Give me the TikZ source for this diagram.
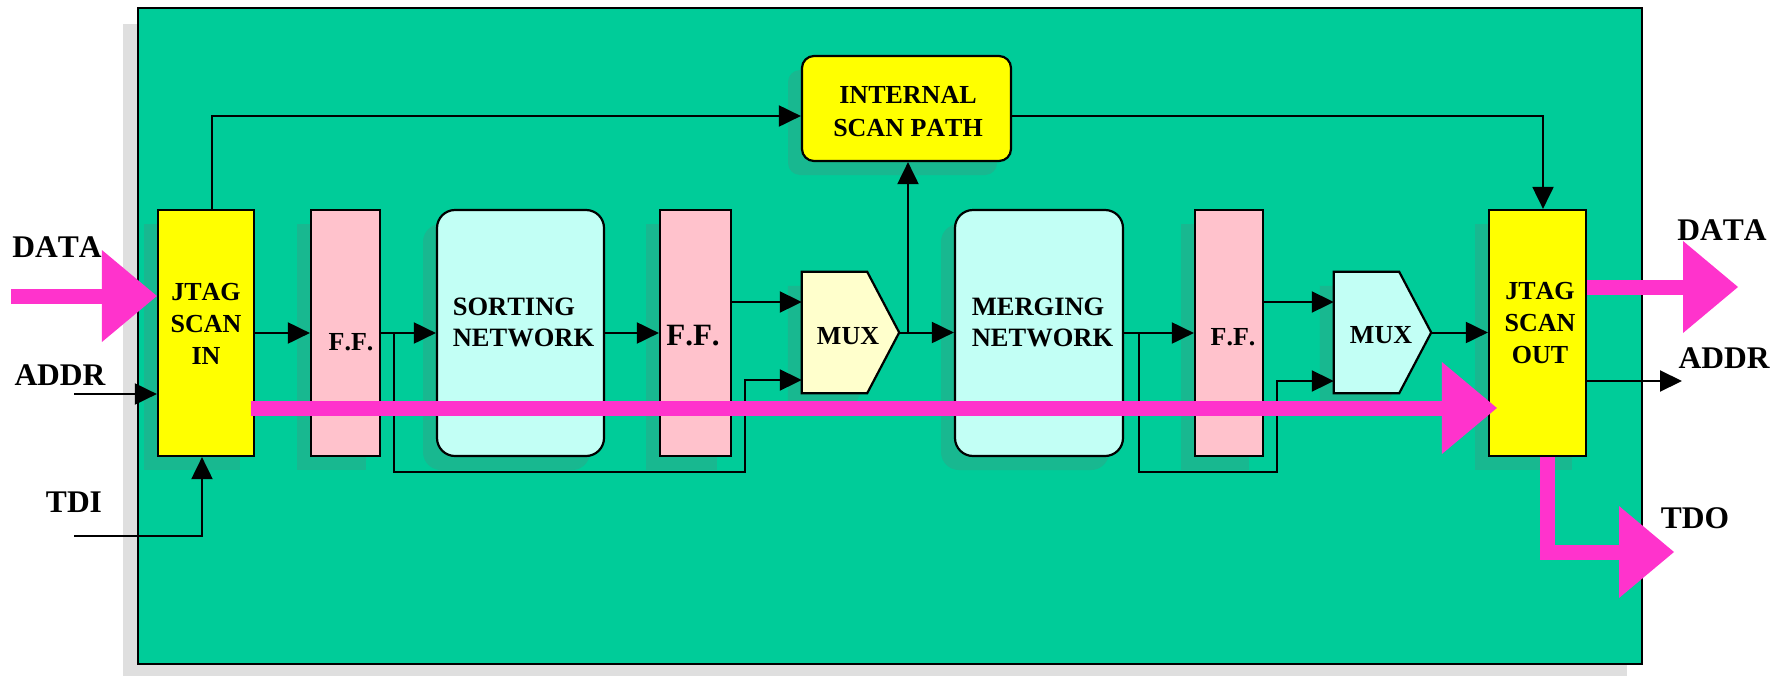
\documentclass[tikz,border=0pt]{standalone}
\usepackage{fontspec}
\setmainfont{Liberation Serif}[Kerning=Off]
\usetikzlibrary{arrows.meta,shadows,calc}
\definecolor{chipgreen}{HTML}{00CC99}
\definecolor{shadowgreen}{RGB}{24,184,144}
\definecolor{jyellow}{HTML}{FFFF00}
\definecolor{ffpink}{HTML}{FFC2CC}
\definecolor{netcyan}{HTML}{C2FFF5}
\definecolor{muxyellow}{HTML}{FFFFCC}
\definecolor{magline}{HTML}{FF33CC}
\begin{document}
\begin{tikzpicture}[x=1pt,y=-1pt,
  blockshadow/.style={drop shadow={shadow xshift=-14pt,shadow yshift=-14pt,fill=shadowgreen,opacity=1}},
  chipshadow/.style={drop shadow={shadow xshift=-15pt,shadow yshift=-16pt,fill=gray!25,opacity=1}},
  blk/.style={draw=black,line width=2.2pt,inner sep=0pt,minimum height=246pt,blockshadow},
  lbl/.style={font=\bfseries\fontsize{26}{32}\selectfont,align=center,inner sep=0pt},
  netlbl/.style={font=\bfseries\fontsize{26.5}{31}\selectfont,align=left,inner sep=0pt},
  ffsmall/.style={font=\bfseries\fontsize{26}{30}\selectfont,inner sep=0pt},
  fflarge/.style={font=\bfseries\fontsize{31}{36}\selectfont,inner sep=0pt},
  outl/.style={font=\bfseries\fontsize{31.5}{36}\selectfont,inner sep=0pt},
  arr/.style={line width=2pt,-{Triangle[length=22pt,width=21pt]}},
  mag/.style={draw=magline,line width=15pt,line join=miter,-{Triangle[length=55pt,width=92pt,line width=0pt]}},
  muxbox/.style={inner sep=0pt,minimum height=121pt,minimum width=97pt}
]
\useasboundingbox (0,0) rectangle (1788,675);

% chip body
\node[draw=black,line width=2pt,fill=chipgreen,chipshadow,inner sep=0pt,
      minimum width=1504pt,minimum height=656pt] (chip) at (890,336) {};

% blocks
\node[blk,fill=jyellow,minimum width=96pt] (jin) at (206,333) {};
\node[lbl] (jinT) at (206,324) {JTAG\\SCAN\\IN};

\node[blk,fill=ffpink,minimum width=69pt] (ff1) at (345.5,333) {};
\node[ffsmall] (ff1T) at (351,342) {F.F.};

\node[blk,fill=netcyan,rounded corners=18pt,minimum width=167pt] (sort) at (520.5,333) {};
\node[netlbl] (sortT) at (523.5,322.5) {SORTING\\NETWORK};

\node[blk,fill=ffpink,minimum width=71pt] (ff2) at (695.5,333) {};
\node[fflarge] (ff2T) at (693,336) {F.F.};

\node[muxbox] (mux1) at (850.5,332.5) {};
\filldraw[draw=black,line width=2.2pt,fill=muxyellow,blockshadow]
  (mux1.north west) -- ([xshift=-32pt]mux1.north east) -- (mux1.east)
  -- ([xshift=-32pt]mux1.south east) -- (mux1.south west) -- cycle;
\node[lbl] (mux1T) at (848,336) {MUX};

\node[blk,fill=netcyan,rounded corners=18pt,minimum width=168pt] (merge) at (1039,333) {};
\node[netlbl] (mergeT) at (1042.5,322.5) {MERGING\\NETWORK};

\node[blk,fill=ffpink,minimum width=68pt] (ff3) at (1229,333) {};
\node[ffsmall] (ff3T) at (1233,337) {F.F.};

\node[muxbox] (mux2) at (1382.5,332.5) {};
\filldraw[draw=black,line width=2.2pt,fill=netcyan,blockshadow]
  (mux2.north west) -- ([xshift=-32pt]mux2.north east) -- (mux2.east)
  -- ([xshift=-32pt]mux2.south east) -- (mux2.south west) -- cycle;
\node[lbl] (mux2T) at (1381,335) {MUX};

\node[blk,fill=jyellow,minimum width=97pt] (jout) at (1537.5,333) {};
\node[lbl] (joutT) at (1540,323) {JTAG\\SCAN\\OUT};

\node[blk,fill=jyellow,rounded corners=12pt,minimum width=209pt,minimum height=105pt] (isp) at (906.5,108.5) {};
\node[lbl,font=\bfseries\fontsize{26}{33}\selectfont] (ispT) at (908,111.5) {INTERNAL\\SCAN PATH};

% outside labels
\node[outl] (dataL) at (57,247) {DATA};
\node[outl] (addrL) at (60,375) {ADDR};
\node[outl] (tdiL) at (74,502) {TDI};
\node[outl] (dataR) at (1722,230) {DATA};
\node[outl] (addrR) at (1724,358) {ADDR};
\node[outl] (tdoR) at (1695,518) {TDO};

% free ends and branch points
\coordinate (addrin) at (74,394);
\coordinate (tdiin) at (74,536);
\coordinate (datain) at (11,296);
\coordinate (addrout) at (1682,381);
\coordinate (dataout) at (1738,287);
\coordinate (tdoout) at (1674,552);
\coordinate (b1) at (394,333);
\coordinate (b2) at (908,333);
\coordinate (b3) at (1138.5,333);

% black connectors
\draw[arr] (addrin) -- (jin.west |- addrin);
\draw[arr] (tdiin) -| ([xshift=-4pt]jin.south);
\draw[arr] ([xshift=6pt]jin.north) |- (isp.west |- 0,116);
\draw[arr] (isp.east |- 0,116) -| ([xshift=5.5pt]jout.north);
\draw[arr] (jin) -- (ff1);
\draw[arr] (ff1) -- (sort);
\draw[arr] (b1) |- (745,472) |- (mux1.west |- 0,380);
\draw[arr] (sort) -- (ff2);
\draw[arr] (ff2.east |- 0,302) -- (mux1.west |- 0,302);
\draw[arr] (mux1.east) -- (merge.west |- mux1.east);
\draw[arr] (b2) -- (b2 |- isp.south);
\draw[arr] (merge) -- (ff3);
\draw[arr] (b3) |- (1277,472) |- (mux2.west |- 0,381);
\draw[arr] (ff3.east |- 0,302) -- (mux2.west |- 0,302);
\draw[arr] (mux2.east) -- (jout.west |- mux2.east);
\draw[arr] (jout.east |- addrout) -- (addrout);

% magenta data paths
\draw[mag] (datain) -- (jin.west |- datain);
\draw[mag] ([xshift=-4pt]jin.east |- 0,408) -- ($(jout.west |- 0,408)+(9,0)$);
\draw[mag] (jout.east |- dataout) -- (dataout);
\draw[mag] ([xshift=9.5pt]jout.south) |- (tdoout);
\end{tikzpicture}
\end{document}
